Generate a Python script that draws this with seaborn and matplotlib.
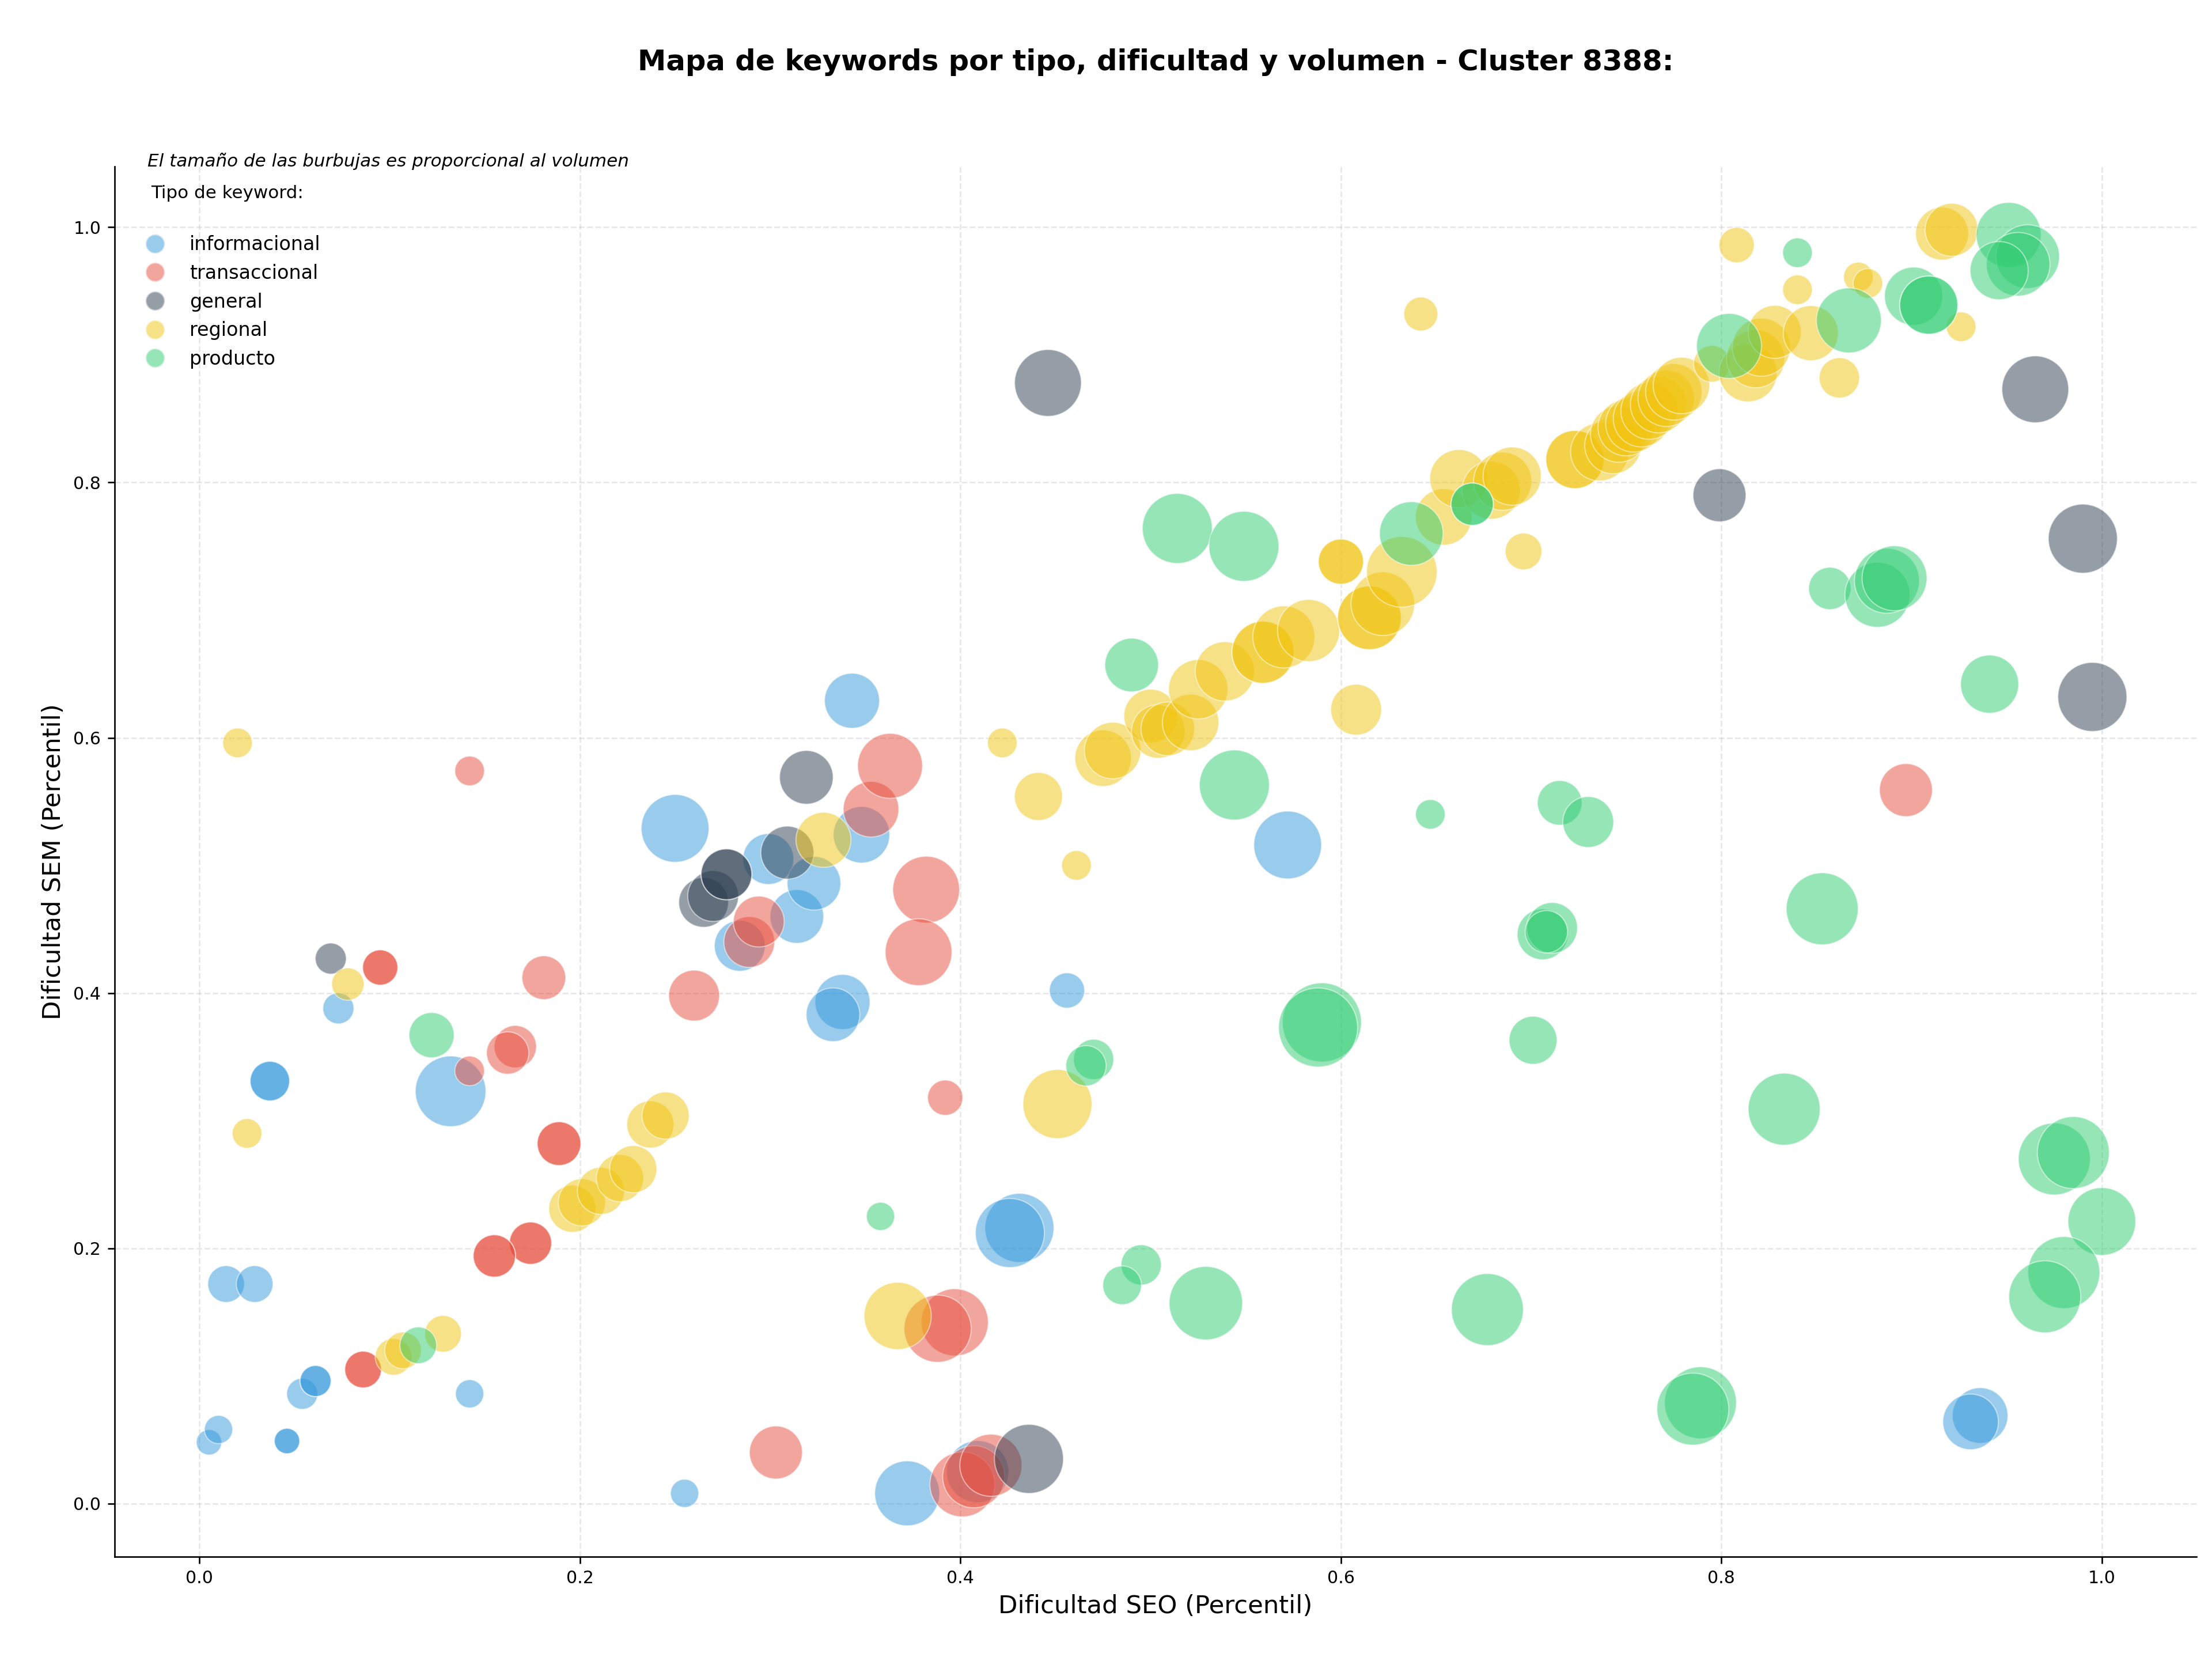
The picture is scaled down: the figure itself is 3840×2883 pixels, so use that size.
import pandas as pd
import numpy as np
import matplotlib
matplotlib.use("Agg")
import matplotlib.pyplot as plt
from matplotlib.lines import Line2D
import seaborn as sns

tipos = ["informacional", "transaccional", "general", "regional", "producto"]
colores = ["#3498DB", "#E74C3C", "#2C3E50", "#F1C40F", "#2ECC71"]

# informacional
seo_info = [.005, .010, .014, .029, .037, .037, .046, .046, .054, .061, .061, .073, .132, .142, .250, .255,
            .284, .299, .314, .323, .348, .343, .338, .333, .456, .431, .426, .372, .409, .572, .936, .931]
sem_info = [.048, .058, .172, .172, .331, .331, .049, .049, .086, .096, .096, .388, .323, .086, .529, .008,
            .437, .505, .460, .486, .524, .629, .393, .383, .402, .216, .212, .008, .025, .516, .069, .064]
vol_info = [810, 1000, 1690, 1690, 1960, 1960, 810, 810, 1210, 1210, 1210, 1210, 6250, 1000, 5760, 1000,
            3240, 3240, 3610, 3610, 4000, 3800, 3800, 3610, 1560, 5980, 5980, 5290, 4840, 5760, 3880, 3880]

# transaccional
seo_trans = [.142, .095, .095, .181, .142, .166, .162, .189, .189, .174, .174, .155, .155, .086, .086,
             .260, .289, .294, .353, .363, .382, .378, .392, .397, .388, .303, .401, .407, .416, .897]
sem_trans = [.574, .420, .420, .412, .339, .358, .353, .282, .282, .204, .204, .194, .194, .105, .105,
             .398, .440, .456, .544, .578, .481, .432, .318, .142, .137, .040, .015, .021, .030, .559]
vol_trans = [1100, 1560, 1560, 2400, 1100, 2250, 2250, 2400, 2400, 2250, 2250, 2250, 2250, 1690, 1690,
             3240, 3240, 3240, 3880, 5290, 5600, 5600, 1560, 5660, 5660, 3520, 5290, 4840, 4840, 3520]

# general
seo_gen = [.069, .265, .270, .277, .277, .309, .319, .436, .446, .799, .965, .990, .995]
sem_gen = [.427, .471, .476, .493, .493, .510, .569, .035, .878, .790, .873, .756, .632]
vol_gen = [1210, 3100, 3240, 3240, 3240, 3520, 3610, 5980, 5600, 3520, 5600, 5980, 5980]

# regional
seo_reg = [.020, .025, .078, .102, .107, .128, .196, .201, .211, .221, .228, .237, .245, .328, .422, .441,
           .461, .451, .367, .475, .480, .500, .504, .509, .521, .525, .539, .559, .559, .570, .583, .600,
           .600, .608, .615, .615, .622, .632, .642, .654, .662, .679, .685, .690, .696, .723, .723, .736,
           .743, .746, .750, .754, .758, .762, .767, .771, .775, .779, .795, .814, .818, .821, .828, .847,
           .862, .808, .840, .872, .877, .926, .916, .921]
sem_reg = [.596, .290, .407, .115, .120, .133, .231, .236, .245, .255, .262, .297, .304, .520, .596, .554,
           .500, .313, .147, .584, .590, .617, .605, .607, .612, .638, .652, .667, .667, .679, .684, .738,
           .738, .622, .694, .694, .705, .730, .932, .773, .803, .794, .801, .805, .746, .818, .818, .824,
           .829, .838, .843, .846, .850, .856, .861, .866, .871, .876, .893, .886, .897, .906, .918, .917,
           .882, .986, .951, .961, .956, .922, .995, .998]
vol_reg = [1100, 1100, 1320, 1690, 1690, 1690, 2790, 2790, 2790, 2790, 2790, 2790, 2790, 3800, 1100, 2890,
           1100, 5980, 5660, 4000, 4000, 3610, 3610, 3610, 4000, 4410, 4410, 4840, 4840, 4840, 4840, 2560,
           2560, 3240, 5080, 5080, 5080, 6250, 1440, 4000, 4240, 4240, 4240, 4240, 1690, 4240, 4240, 4240,
           4000, 4000, 4000, 4000, 4000, 4000, 4000, 4000, 4000, 4000, 1690, 4240, 4240, 4240, 3520, 3800,
           2040, 1560, 1100, 1100, 1100, 1100, 3520, 3520]

# producto
seo_prod = [.122, .115, .358, .470, .466, .495, .485, .529, .590, .588, .514, .549, .490, .544, .637, .669,
            .669, .647, .715, .730, .706, .711, .708, .701, .853, .833, .677, .789, .785, .975, .985, 1.000,
            .980, .970, .941, .857, .882, .887, .891, .804, .867, .840, .901, .909, .909, .951, .961, .956, .946]
sem_prod = [.367, .124, .225, .348, .343, .187, .171, .157, .377, .373, .764, .750, .657, .563, .760, .783,
            .783, .540, .549, .534, .446, .451, .448, .363, .466, .309, .152, .079, .074, .270, .275, .221,
            .181, .162, .642, .717, .712, .723, .725, .907, .927, .980, .946, .939, .939, .994, .977, .971, .966]
vol_prod = [2560, 1690, 1000, 2040, 2040, 2040, 1880, 6760, 7840, 7840, 6150, 6150, 3610, 6150, 5080, 2250,
            2250, 1100, 2500, 3240, 3240, 3240, 2250, 2890, 6500, 6500, 6500, 6500, 6500, 6500, 6500, 5760,
            6500, 6500, 4240, 2250, 5290, 5290, 5290, 5290, 5290, 1100, 4240, 4240, 4240, 5290, 5080, 5080, 4240]

series = [
    ("informacional", seo_info, sem_info, vol_info),
    ("transaccional", seo_trans, sem_trans, vol_trans),
    ("general", seo_gen, sem_gen, vol_gen),
    ("regional", seo_reg, sem_reg, vol_reg),
    ("producto", seo_prod, sem_prod, vol_prod),
]
df = pd.concat(
    [pd.DataFrame({"seo": xs, "sem": ys, "volumen": vs, "tipo": t}) for t, xs, ys, vs in series],
    ignore_index=True,
)

plt.rcParams["font.family"] = ["DejaVu Sans"]

fig = plt.figure(figsize=(16, 12.0125), dpi=240)
ax = fig.add_axes([0.0517, 0.0629, 0.9413, 0.8368])
ax.set_axisbelow(True)

sns.scatterplot(
    data=df, x="seo", y="sem", hue="tipo", hue_order=tipos,
    palette=dict(zip(tipos, colores)),
    size="volumen", sizes=(0, 2159), size_norm=(0, 10000),
    alpha=0.5, edgecolor="white", linewidth=0.6, legend=False, ax=ax,
)

ax.grid(True, linestyle="--", alpha=0.3)
sns.despine(ax=ax)
ax.tick_params(labelsize=9)
ax.set_xlabel("Dificultad SEO (Percentil)", fontsize=13)
ax.set_ylabel("Dificultad SEM (Percentil)", fontsize=13)
ax.set_title("Mapa de keywords por tipo, dificultad y volumen - Cluster 8388:",
             fontsize=14.9, fontweight="bold", pad=50)

ax.text(0.016, 1.004, "El tamaño de las burbujas es proporcional al volumen",
        transform=ax.transAxes, fontsize=9.3, style="italic", va="center")
ax.text(0.0176, 0.981, "Tipo de keyword:", transform=ax.transAxes, fontsize=9.3, va="center")

handles = [Line2D([0], [0], marker="o", linestyle="", markersize=10,
                  markerfacecolor=c, markeredgecolor="white", alpha=0.5) for c in colores]
ax.legend(handles, tipos, loc="upper left", bbox_to_anchor=(0.002, 0.963),
          frameon=False, fontsize=10)

fig.savefig("out.png", dpi=240)
